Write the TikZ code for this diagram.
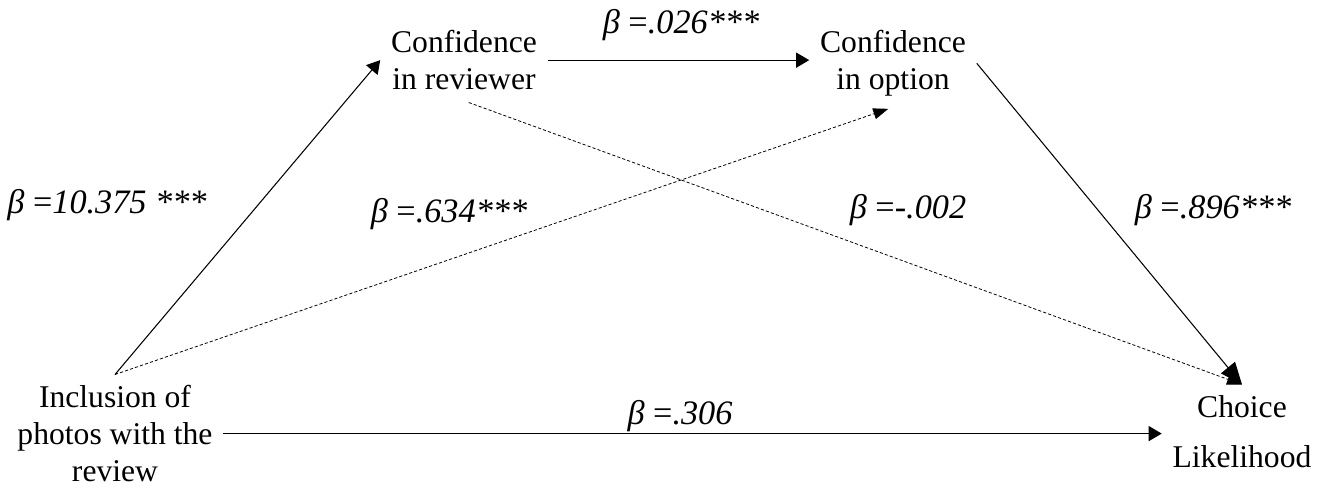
\documentclass[tikz,border=0pt]{standalone}
\usepackage{fontspec}
\setmainfont{Liberation Serif}
\usepackage{tikz}
\usetikzlibrary{arrows.meta,positioning}
\newcommand{\coef}[1]{\textit{β} =\textit{#1}}

\begin{document}
\begin{tikzpicture}[
  var/.style={align=center, inner sep=6pt, font=\fontsize{18}{21}\selectfont},
  lbl/.style={inner sep=0pt, font=\fontsize{19.5}{22}\selectfont},
  arr/.style={-{Triangle[length=0.26cm, width=0.3cm]}, line width=0.6pt},
  bigarr/.style={-{Triangle[length=0.44cm, width=0.36cm]}, line width=0.6pt},
  darr/.style={-{Triangle[length=0.3cm, width=0.22cm]}, line width=0.45pt, dash pattern=on 1.8pt off 1.2pt}
]
\useasboundingbox (0,0) rectangle (26.58,-9.78);

\node[var, anchor=north] (inc) at (2.30,-7.49) {Inclusion of\\photos with the\\review};
\node[var, anchor=north] (rev) at (9.28,-0.39) {Confidence\\in reviewer};
\node[var, anchor=north] (opt) at (17.86,-0.39) {Confidence\\in option};
\node[var, anchor=north, font=\fontsize{18}{28.5}\selectfont] (choice) at (24.84,-7.69) {Choice\\Likelihood};

\node[lbl] (l026) at (13.62,-0.50) {\coef{.026***}};
\node[lbl] (l10375) at (2.14,-4.10) {\coef{10.375 ***}};
\node[lbl] (l634) at (8.98,-4.28) {\coef{.634***}};
\node[lbl] (l002) at (18.16,-4.20) {\coef{-.002}};
\node[lbl] (l896) at (24.26,-4.20) {\coef{.896***}};
\node[lbl] (l306) at (13.60,-8.32) {\coef{.306}};

\draw[arr] (inc.north) -- (rev.west);
\draw[arr] (rev.east) -- (rev.east -| opt.west);
\draw[arr] (inc.east) -- (inc.east -| choice.west);
\draw[darr, shorten >=0.1cm] (inc.north) -- (opt.south);
\draw[darr, shorten <=0.1cm] (rev.south) -- (choice.north);
\draw[bigarr] (opt.east) -- (choice.north);
\end{tikzpicture}
\end{document}
